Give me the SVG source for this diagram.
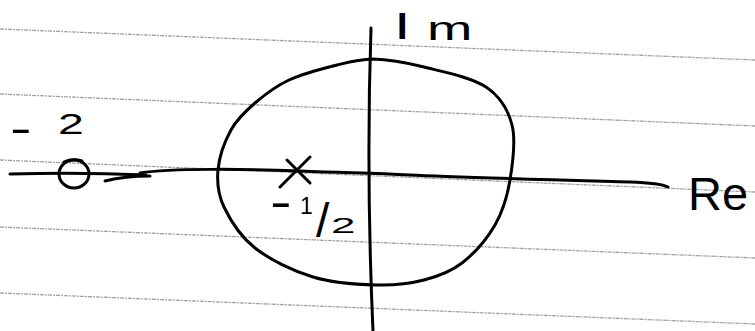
<svg xmlns="http://www.w3.org/2000/svg" width="755" height="331" viewBox="0 0 755 331">
<style>
.rule{stroke:#8a8a8a;stroke-width:1.3;stroke-dasharray:4 1 2 1;fill:none;opacity:0.8}
.ink{stroke:#000;stroke-width:3;fill:none;stroke-linecap:round;stroke-linejoin:round}
.lbl{font-family:"Liberation Sans",Arial,sans-serif;fill:#000}
</style>
<rect width="755" height="331" fill="#fff"/>
<g id="paper">
<line class="rule" x1="0" y1="29" x2="755" y2="60"/>
<line class="rule" x1="0" y1="94" x2="755" y2="126"/>
<line class="rule" x1="0" y1="160" x2="755" y2="192"/>
<line class="rule" x1="0" y1="227" x2="755" y2="258"/>
<line class="rule" x1="0" y1="293" x2="755" y2="324"/>
</g>
<g id="connectors">
<path id="im-axis" class="ink" d="M371,28 Q366,175 373,331"/>
<path id="re-axis-left" class="ink" d="M10,174 Q80,172 146,175"/>
<path id="re-axis-tail" class="ink" d="M105,181 Q125,176 150,176"/>
<path id="re-axis" class="ink" d="M140,173 C170,168 250,169 300,171 S370,173 410,175 S560,180 630,182 Q660,183 668,187"/>
</g>
<g id="unit-circle">
<path class="ink" d="M373,59 C387.5,59.3 405.2,62.3 424,67 C442.8,71.7 471.3,77.3 486,87 C500.7,96.7 508,109.5 512,125 C516,140.5 512.8,163.3 510,180 C507.2,196.7 503,211.2 495,225 C487,238.8 473.8,253.8 462,263 C450.2,272.2 438.3,276.3 424,280 C409.7,283.7 394.5,285.5 376,285 C357.5,284.5 333.2,283.2 313,277 C292.8,270.8 269.8,259.7 255,248 C240.2,236.3 230.2,220 224,207 C217.8,194 216.8,182.8 218,170 C219.2,157.2 224.8,141.2 231,130 C237.2,118.8 245.3,111.3 255,103 C264.7,94.7 275.3,86.3 289,80 C302.7,73.7 323,68.5 337,65 C351,61.5 358.5,59.3 373,59 Z"/>
</g>
<g id="zero">
<ellipse class="ink" cx="74" cy="174" rx="15" ry="14"/>
<path class="ink" d="M64,162 Q72,158 82,161"/>
<text class="lbl" font-size="48" transform="translate(10,143) scale(1.35,0.9)">-</text>
<text class="lbl" font-size="29" transform="translate(58,134) scale(1.6,1)">2</text>
</g>
<g id="pole">
<line class="ink" x1="287" y1="160" x2="310" y2="183"/>
<line class="ink" x1="310" y1="157" x2="280" y2="187"/>
<text class="lbl" font-size="52" transform="translate(270,218) scale(1.25,0.9)">-</text>
<text class="lbl" font-size="23" x="300" y="214">1</text>
<text class="lbl" font-size="48" x="316" y="237">/</text>
<text class="lbl" font-size="22" transform="translate(331,233) scale(2,1)">2</text>
</g>
<g id="im-label">
<text class="lbl" font-size="37" transform="translate(394,39) scale(1.6,1)">I</text>
<text class="lbl" font-size="33" transform="translate(427,40) scale(1.65,1)">m</text>
</g>
<g id="re-label">
<text class="lbl" x="688" y="210" font-size="47">Re</text>
</g>
</svg>
